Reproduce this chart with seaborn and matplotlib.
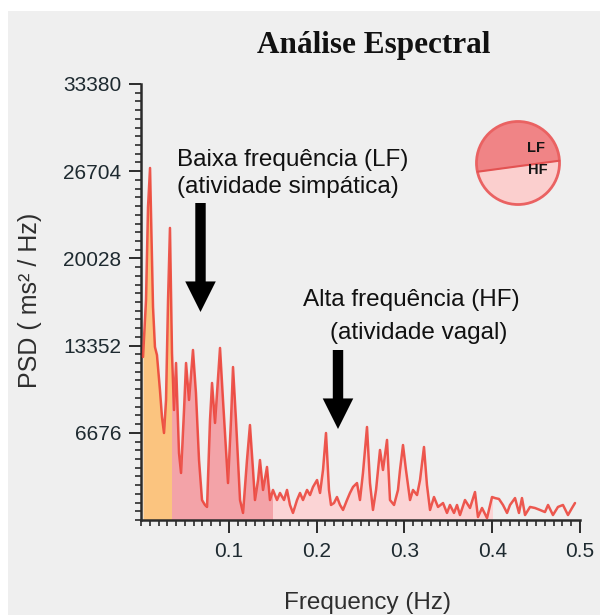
import numpy as np
import pandas as pd
import matplotlib
matplotlib.use("Agg")
import matplotlib.pyplot as plt
import seaborn as sns
from matplotlib import font_manager
from matplotlib.patches import Rectangle, Circle
from matplotlib.ticker import MultipleLocator, FixedLocator

# ---------------- data ----------------
freq_hz = [0.0023, 0.0057, 0.0080, 0.0103, 0.0125, 0.0137, 0.0159, 0.0182, 0.0216, 0.0239,
           0.0262, 0.0285, 0.0308, 0.0330, 0.0353, 0.0376, 0.0399, 0.0433, 0.0456, 0.0490,
           0.0513, 0.0547, 0.0592, 0.0626, 0.0661, 0.0695, 0.0729, 0.0752, 0.0786, 0.0809,
           0.0843, 0.0900, 0.0934, 0.0957, 0.0991, 0.1025, 0.1048, 0.1082, 0.1128, 0.1162,
           0.1207, 0.1241, 0.1276, 0.1298, 0.1333, 0.1355, 0.1390, 0.1435, 0.1469, 0.1503,
           0.1549, 0.1583, 0.1629, 0.1663, 0.1697, 0.1731, 0.1777, 0.1811, 0.1845, 0.1891,
           0.1925, 0.1959, 0.2005, 0.2039, 0.2073, 0.2107, 0.2141, 0.2164, 0.2198, 0.2232,
           0.2267, 0.2301, 0.2346, 0.2380, 0.2415, 0.2460, 0.2494, 0.2528, 0.2551, 0.2574,
           0.2608, 0.2642, 0.2677, 0.2722, 0.2756, 0.2802, 0.2836, 0.2882, 0.2927, 0.2950,
           0.2984, 0.3018, 0.3064, 0.3098, 0.3144, 0.3178, 0.3223, 0.3257, 0.3292, 0.3337,
           0.3383, 0.3440, 0.3485, 0.3519, 0.3565, 0.3599, 0.3633, 0.3690, 0.3747, 0.3804,
           0.3838, 0.3884, 0.3941, 0.3998, 0.4032, 0.4077, 0.4123, 0.4169, 0.4203, 0.4260,
           0.4305, 0.4339, 0.4374, 0.4431, 0.4487, 0.4544, 0.4601, 0.4636, 0.4692, 0.4749,
           0.4806, 0.4863, 0.4909, 0.4943]
psd = [12480, 16840, 23960, 26950, 19910, 16310, 13245, 12630, 9950, 7890,
       6660, 9190, 16840, 22360, 12790, 8420, 12020, 5130, 3600, 8420,
       12020, 9190, 13015, 9720, 4590, 1530, 1150, 1000, 7660, 10490,
       7430, 13170, 9190, 6660, 2830, 7660, 11710, 7660, 1530, 540,
       4590, 7270, 3830, 1530, 3060, 4590, 2300, 4060, 1530, 2300,
       1530, 2070, 1530, 2300, 1150, 540, 1530, 2070, 1530, 2300,
       1910, 2530, 3060, 2070, 3830, 6660, 2300, 1150, 1300, 1760,
       1150, 770, 1530, 2070, 2530, 2830, 1530, 3600, 5360, 7120,
       2830, 770, 2300, 5360, 3830, 6130, 1530, 1150, 2300, 3830,
       5740, 3830, 1530, 2300, 1910, 3060, 5590, 2680, 770, 1760,
       1000, 1300, 540, 1150, 540, 1150, 380, 1530, 920, 2140,
       230, 920, 150, 1760, 1680, 1610, 1150, 540, 1150, 1680,
       540, 1680, 380, 1000, 920, 770, 610, 1150, 380, 1000,
       1150, 380, 920, 1300]

y_ticks = [6676, 13352, 20028, 26704, 33380]
y_tick_labels = ["6676", "13352", "20028", "26704", "33380"]
x_ticks = [0.1, 0.2, 0.3, 0.4, 0.5]
x_tick_labels = ["0.1", "0.2", "0.3", "0.4", "0.5"]
band_edges = [0.0, 0.035, 0.15, 0.40]          # VLF | LF | HF
band_colors = ["#fbc47f", "#f3a3a8", "#fbd4d5"]
pie_labels = ["LF", "HF"]
pie_shares = [0.55, 0.45]

title = "Análise Espectral"
x_label = "Frequency (Hz)"
y_label = "PSD ( ms² / Hz)"
lf_text = ["Baixa frequência (LF)", "(atividade simpática)"]
hf_text = ["Alta frequência (HF)", "(atividade vagal)"]

df = pd.DataFrame({"freq": freq_hz, "psd": psd})

# ---------------- style ----------------
sns.set_theme(style="ticks")
plt.rcParams["font.family"] = ["Liberation Sans", "DejaVu Sans"]
names = {f.name for f in font_manager.fontManager.ttflist}
has_narrow = "Liberation Sans Narrow" in names
tick_family = ["Liberation Sans Narrow", "Liberation Sans", "DejaVu Sans"] if has_narrow \
    else ["Liberation Sans", "DejaVu Sans"]
tick_size = 18 if has_narrow else 15

W, H = 600, 615
fig = plt.figure(figsize=(W / 100, H / 100), dpi=100, facecolor="white")
BG = "#efefef"
fig.patches.append(Rectangle((8 / W, 0), 1, (H - 11) / H, transform=fig.transFigure,
                             facecolor=BG, edgecolor="none", zorder=-10))

ax = fig.add_axes([141 / W, 95 / H, 439 / W, 436 / H])
ax.set_facecolor("none")

ymax = y_ticks[-1]
# band fills, clipped per band
for (x0, x1), col in zip(zip(band_edges[:-1], band_edges[1:]), band_colors):
    poly = ax.fill_between(df["freq"], df["psd"], 0, color=col, lw=0, zorder=1)
    clip = Rectangle((x0, 0), x1 - x0, ymax, transform=ax.transData)
    poly.set_clip_path(clip)

sns.lineplot(data=df, x="freq", y="psd", ax=ax, color="#ec3d33", lw=1.8, alpha=0.85,
             estimator=None, sort=True, zorder=3)

ax.set_xlim(0, 0.5)
ax.set_ylim(0, ymax)
ax.set_xlabel("")
ax.set_ylabel("")
for s in ["top", "right"]:
    ax.spines[s].set_visible(False)
for s in ["left", "bottom"]:
    ax.spines[s].set_color("#2b2b2b")
    ax.spines[s].set_linewidth(1.8)

ax.xaxis.set_major_locator(FixedLocator(x_ticks))
ax.set_xticklabels(x_tick_labels)
ax.xaxis.set_minor_locator(MultipleLocator(0.01))
ax.yaxis.set_major_locator(FixedLocator(y_ticks))
ax.set_yticklabels(y_tick_labels)
ax.yaxis.set_minor_locator(MultipleLocator(y_ticks[0] / 10))

ax.tick_params(axis="both", which="major", direction="out", length=9, width=1.4,
               color="#2b2b2b", labelcolor="#1e2a30", labelsize=tick_size)
ax.tick_params(axis="both", which="minor", direction="out", length=4.5, width=1.2, color="#2b2b2b")
ax.tick_params(axis="x", which="major", pad=7)
ax.tick_params(axis="y", which="major", pad=5)
for lab in ax.get_xticklabels() + ax.get_yticklabels():
    lab.set_family(tick_family)

# titles / labels
fig.text(374 / W, 1 - 45 / H, title, ha="center", va="center", fontsize=22.5,
         fontweight="bold", family=["Liberation Serif", "DejaVu Serif"], color="#111111")
fig.text(367 / W, 1 - 603 / H, x_label, ha="center", va="center", fontsize=17.5, color="#2e2e2e")
fig.text(30 / W, 1 - 300 / H, y_label, ha="center", va="center", fontsize=18,
         rotation=90, color="#2e2e2e")

# annotations
txt_kw = dict(ha="center", va="center", fontsize=17.5, color="#111111")
fig.text(293 / W, 1 - 160 / H, lf_text[0], **txt_kw)
fig.text(288 / W, 1 - 187 / H, lf_text[1], **txt_kw)
fig.text(411 / W, 1 - 300 / H, hf_text[0], **txt_kw)
fig.text(419 / W, 1 - 333 / H, hf_text[1], **txt_kw)

arrow_style = "simple,head_length=2.2,head_width=2.2,tail_width=0.75"
for (xs, ys, xe, ye) in [(200.5, 203, 200.5, 312), (338, 350, 338, 429)]:
    ax.annotate("", xy=(xe, H - ye), xycoords="figure pixels",
                xytext=(xs, H - ys), textcoords="figure pixels",
                arrowprops=dict(arrowstyle=arrow_style, mutation_scale=10, fc="black",
                                ec="black", lw=0, shrinkA=0, shrinkB=0))

# LF/HF balance glyph
pax = fig.add_axes([474 / W, (H - 207) / H, 88 / W, 88 / H])
pax.set_xlim(-1.06, 1.06)
pax.set_ylim(-1.06, 1.06)
pax.set_aspect("equal")
pax.axis("off")
hgrid = np.linspace(-1, 1, 2001)
frac_below = (hgrid * np.sqrt(1 - hgrid ** 2) + np.arcsin(hgrid) + np.pi / 2) / np.pi
level = hgrid[np.argmin(np.abs(frac_below - pie_shares[1]))]
xx = np.linspace(-1, 1, 400)
top = np.sqrt(1 - xx ** 2)
bot = -top
bound = np.clip(level + 0.135 * xx, bot, top)
pax.fill_between(xx, bot, bound, color="#fbcfce", lw=0)
pax.fill_between(xx, bound, top, color="#f08486", lw=0)
inside = (bound > bot) & (bound < top)
pax.plot(xx[inside], bound[inside], color="#e35252", lw=1.5)
pax.add_patch(Circle((0, 0), 1, fill=False, ec="#ea6262", lw=2.0))
pax.text(0.43, 0.36, pie_labels[0], ha="center", va="center", fontsize=10.5,
         fontweight="bold", color="#151515")
pax.text(0.48, -0.18, pie_labels[1], ha="center", va="center", fontsize=10.5,
         fontweight="bold", color="#151515")

fig.savefig("out.png", dpi=100, facecolor="white")
